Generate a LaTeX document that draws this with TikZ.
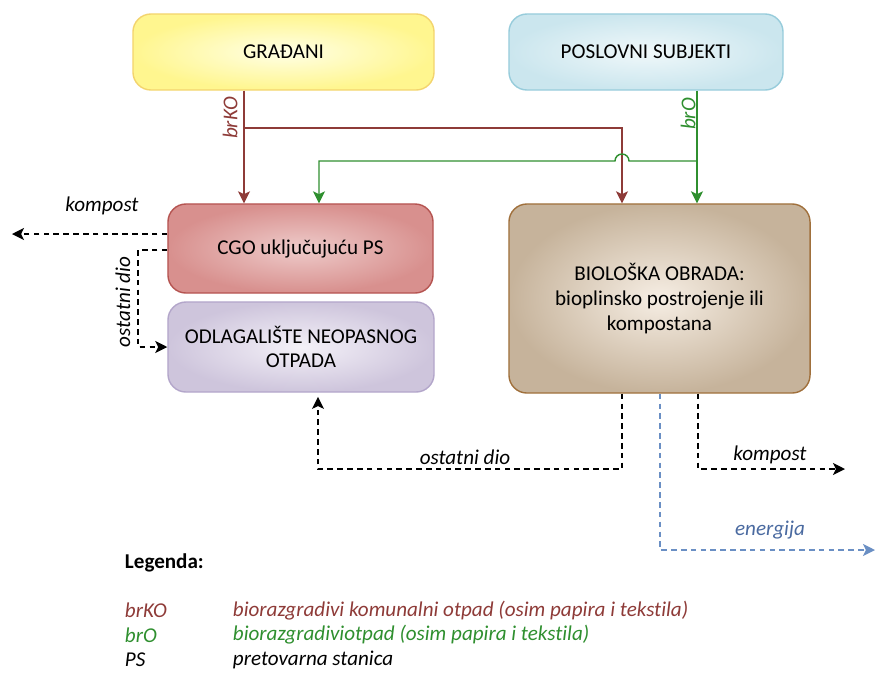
\documentclass[tikz,border=0pt]{standalone}
\usepackage{fontspec}
\setmainfont{Carlito}[Ligatures=NoCommon]
\usetikzlibrary{calc, positioning, arrows.meta}

\definecolor{kocol}{HTML}{8E3B38}
\definecolor{ocol}{HTML}{2F8F2F}
\definecolor{encol}{HTML}{6A8FC4}
\definecolor{entxt}{HTML}{4A6AA0}
\definecolor{yelin}{HTML}{FFFFE6}
\definecolor{yelout}{HTML}{FFF68F}
\definecolor{yeldr}{HTML}{F3D46E}
\definecolor{bluin}{HTML}{F0F8FA}
\definecolor{bluout}{HTML}{CBE6EE}
\definecolor{bludr}{HTML}{97CCDB}
\definecolor{redin}{HTML}{EECBCA}
\definecolor{redout}{HTML}{D8908E}
\definecolor{reddr}{HTML}{B55451}
\definecolor{lilin}{HTML}{F4F1F8}
\definecolor{lilout}{HTML}{CEC5DC}
\definecolor{lildr}{HTML}{B3A6CA}
\definecolor{tanin}{HTML}{F6EEE4}
\definecolor{tanout}{HTML}{C6B39B}
\definecolor{tandr}{HTML}{A0703C}

\tikzset{
  box/.style={draw, line width=1pt, rounded corners=0.45cm, align=center, inner sep=2pt},
  yelbox/.style={box, draw=yeldr, inner color=yelin, outer color=yelout},
  blubox/.style={box, draw=bludr, inner color=bluin, outer color=bluout},
  redbox/.style={box, draw=reddr, inner color=redin, outer color=redout},
  lilbox/.style={box, draw=lildr, inner color=lilin, outer color=lilout},
  tanbox/.style={box, draw=tandr, inner color=tanin, outer color=tanout},
  tip/.style={-{Stealth[length=8.5pt, width=8.5pt, inset=2pt]}},
  kol/.style={draw=kocol, line width=1pt, tip},
  ol/.style={draw=ocol, line width=1pt, tip},
  dsh/.style={draw=black, line width=1pt, dash pattern=on 4pt off 3pt, tip},
  enl/.style={draw=encol, line width=1pt, dash pattern=on 4pt off 3pt, tip},
  lab/.style={font=\fontsize{15}{17}\selectfont\itshape},
  legtxt/.style={lab, anchor=west}
}

\begin{document}
\begin{tikzpicture}[x=0.025cm, y=-0.025cm, font=\fontsize{15}{17.5}\selectfont]
\useasboundingbox (0,0) rectangle (875,673);

% boxes
\node[yelbox, minimum width=7.525cm, minimum height=1.9cm] (gr) at (283.5,52) {GRAĐANI};
\node[blubox, minimum width=6.85cm, minimum height=1.9cm] (ps) at (646,52) {POSLOVNI SUBJEKTI};
\node[redbox, minimum width=6.625cm, minimum height=2.225cm] (cgo) at (300.5,248.5) {CGO uključujuću PS};
\node[lilbox, minimum width=6.65cm, minimum height=2.25cm] (odl) at (301,347) {ODLAGALIŠTE NEOPASNOG\\OTPADA};
\node[tanbox, minimum width=7.525cm, minimum height=4.725cm] (bio) at (659.5,298.5) {BIOLOŠKA OBRADA:\\bioplinsko postrojenje ili\\kompostana};

% branch points
\coordinate (ko) at (244,128);
\coordinate (kob) at (622,128);
\coordinate (o) at (697,161);
\coordinate (oc) at (319,161);

% brKO
\draw[kol] (gr.south -| ko) -- (ko |- cgo.north);
\draw[kol] (ko) -- (kob) -- (kob |- bio.north);
% brO, hop over brKO
\draw[ol] (ps.south -| o) -- (o |- bio.north);
\draw[ol] (o) -- ($(kob |- o)+(7,0)$) arc[start angle=0, end angle=180, radius=0.175cm] -- (oc) -- (oc |- cgo.north);

\node[lab, text=kocol, rotate=90] (lko) at (230,118) {brKO};
\node[lab, text=ocol, rotate=90] (lo) at (688,114) {brO};

% outputs of CGO
\coordinate (k1) at (12,234);
\coordinate (r1) at (138,250);
\coordinate (r1b) at (138,347);
\draw[dsh] (cgo.west |- k1) -- (k1);
\draw[dsh] (cgo.west |- r1) -- (r1) -- (r1b) -- (odl.west |- r1b);
\node[lab] (lk1) at (102,206) {kompost};
\node[lab, rotate=90] (lr1) at (123,302) {ostatni dio};

% outputs of biological treatment
\coordinate (r2) at (622,469);
\coordinate (r2b) at (318,469);
\coordinate (k2) at (698,469);
\coordinate (k2e) at (845,469);
\coordinate (en) at (660,550);
\coordinate (ene) at (875,550);
\draw[dsh, shorten >=3pt] (bio.south -| r2) -- (r2) -- (r2b) -- (r2b |- odl.south);
\draw[dsh] (bio.south -| k2) -- (k2) -- (k2e);
\draw[enl] (bio.south -| en) -- (en) -- (ene);
\node[lab] (lr2) at (465,457) {ostatni dio};
\node[lab] (lk2) at (770,455) {kompost};
\node[lab, text=entxt] (len) at (770,530) {energija};

% legend
\node[anchor=west, font=\fontsize{15}{17}\selectfont\bfseries] (leg) at (120,563) {Legenda:};
\foreach \ab/\txt/\col [count=\i] in {brKO/{biorazgradivi komunalni otpad (osim papira i tekstila)}/kocol, brO/{biorazgradiviotpad (osim papira i tekstila)}/ocol, PS/{pretovarna stanica}/black}
{
  \node[legtxt, text=\col] (ab\i) at (120,586+24.5*\i) {\ab};
  \node[legtxt, text=\col] (tx\i) at (228,586+24.5*\i) {\txt};
}
\end{tikzpicture}
\end{document}
